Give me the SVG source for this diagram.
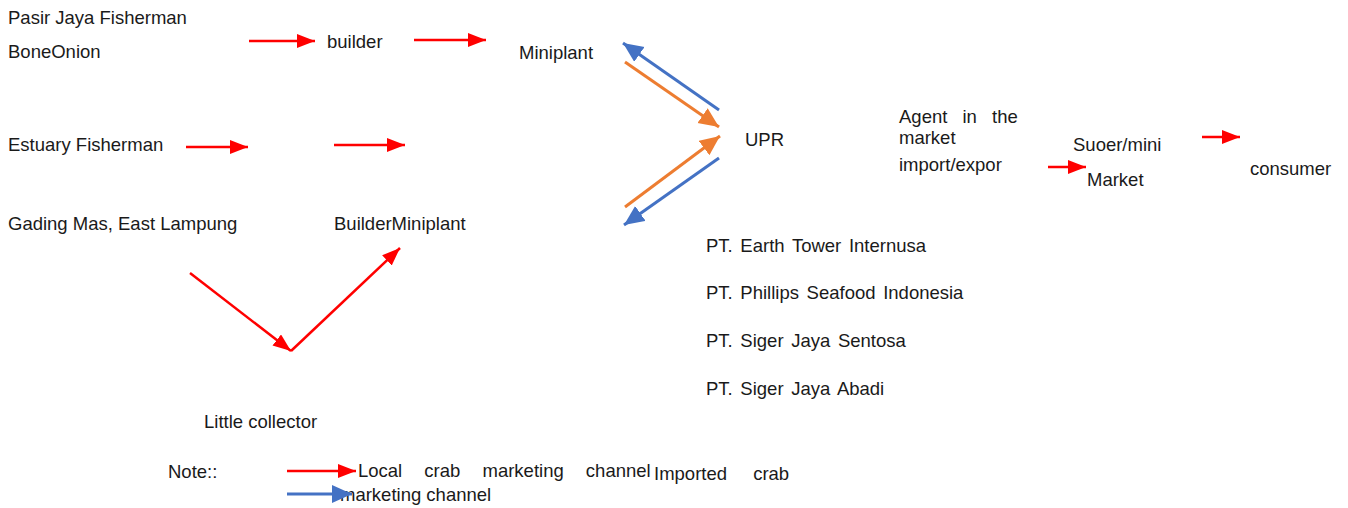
<svg xmlns="http://www.w3.org/2000/svg" width="1348" height="508" viewBox="0 0 1348 508">
<style>
text{font-family:"Liberation Sans","Open Sans",sans-serif;font-size:18.5px;fill:#1a1a1a}
.pt{word-spacing:2.5px}
.r{stroke:#ff0000;stroke-width:2.5;fill:none}
.b{stroke:#4472c4;stroke-width:3;fill:none}
.o{stroke:#ed7d31;stroke-width:3;fill:none}
</style>
<defs>
<marker id="ar" markerUnits="userSpaceOnUse" markerWidth="20" markerHeight="16" refX="18" refY="7" orient="auto"><path d="M0,0 L18,7 L0,14 Z" fill="#ff0000"/></marker>
<marker id="ab" markerUnits="userSpaceOnUse" markerWidth="22" markerHeight="20" refX="20" refY="9" orient="auto"><path d="M0,0 L20,9 L0,18 Z" fill="#4472c4"/></marker>
<marker id="ao" markerUnits="userSpaceOnUse" markerWidth="22" markerHeight="20" refX="20" refY="9" orient="auto"><path d="M0,0 L20,9 L0,18 Z" fill="#ed7d31"/></marker>
</defs>
<g id="n-pasir"><text x="8" y="24">Pasir Jaya Fisherman</text></g>
<g id="n-bone"><text x="8" y="58">BoneOnion</text></g>
<g id="n-builder"><text x="327" y="48">builder</text></g>
<g id="n-miniplant"><text x="519" y="59">Miniplant</text></g>
<g id="n-estuary"><text x="8" y="151">Estuary Fisherman</text></g>
<g id="n-gading"><text x="8" y="230">Gading Mas, East Lampung</text></g>
<g id="n-buildermini"><text x="334" y="230">BuilderMiniplant</text></g>
<g id="n-little"><text x="204" y="428">Little collector</text></g>
<g id="n-upr"><text x="745" y="146">UPR</text></g>
<g id="n-agent"><text x="899" y="123" word-spacing="10">Agent in the</text><text x="899" y="144">market</text><text x="899" y="171">import/expor</text></g>
<g id="n-suoer"><text x="1073" y="151">Suoer/mini</text><text x="1087" y="186">Market</text></g>
<g id="n-consumer"><text x="1250" y="175">consumer</text></g>
<g id="n-pt"><text class="pt" x="706" y="252">PT. Earth Tower Internusa</text><text class="pt" x="706" y="299">PT. Phillips Seafood Indonesia</text><text class="pt" x="706" y="347">PT. Siger Jaya Sentosa</text><text class="pt" x="706" y="395">PT. Siger Jaya Abadi</text></g>
<g id="n-note"><text x="168" y="478">Note::</text><text x="358" y="477" word-spacing="17">Local crab marketing channel</text><text x="654" y="480" word-spacing="21">Imported crab</text><text x="340" y="501">marketing channel</text></g>
<g id="connectors">
<line class="r" x1="249" y1="41" x2="315" y2="41" marker-end="url(#ar)"/>
<line class="r" x1="414" y1="40" x2="486" y2="40" marker-end="url(#ar)"/>
<line class="r" x1="186" y1="147" x2="248" y2="147" marker-end="url(#ar)"/>
<line class="r" x1="334" y1="145" x2="405" y2="145" marker-end="url(#ar)"/>
<line class="r" x1="190" y1="273" x2="291" y2="351" marker-end="url(#ar)"/>
<line class="r" x1="291" y1="351" x2="400" y2="248" marker-end="url(#ar)"/>
<line class="r" x1="1048" y1="167" x2="1086" y2="167" marker-end="url(#ar)"/>
<line class="r" x1="1202" y1="137" x2="1240" y2="137" marker-end="url(#ar)"/>
<line class="b" x1="719" y1="110" x2="623" y2="43" marker-end="url(#ab)"/>
<line class="o" x1="625" y1="62" x2="719" y2="127" marker-end="url(#ao)"/>
<line class="o" x1="625" y1="207" x2="720" y2="136" marker-end="url(#ao)"/>
<line class="b" x1="719" y1="158" x2="624" y2="225" marker-end="url(#ab)"/>
<line class="r" x1="287" y1="471" x2="356" y2="471" marker-end="url(#ar)"/>
<line class="b" x1="287" y1="494" x2="352" y2="494" marker-end="url(#ab)"/>
</g>
</svg>
